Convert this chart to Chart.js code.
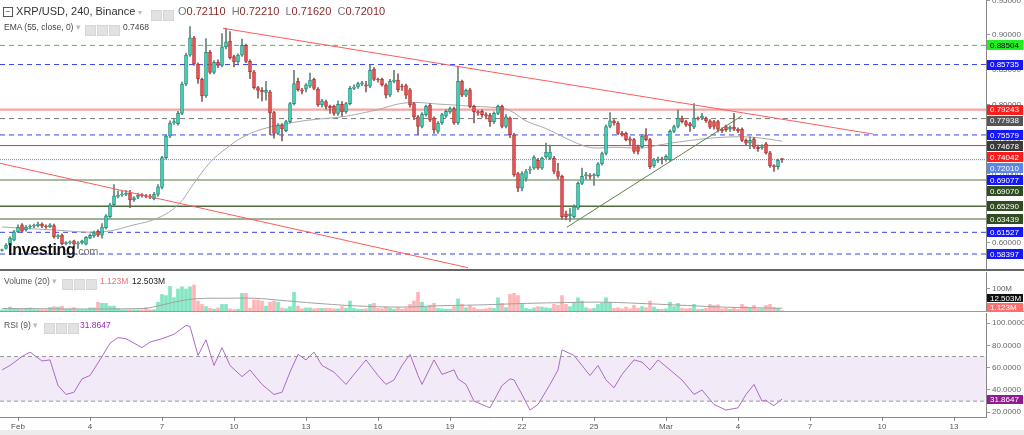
<!DOCTYPE html>
<html>
<head>
<meta charset="utf-8">
<script src="https://cdn.jsdelivr.net/npm/chart.js@4.4.1/dist/chart.umd.min.js"></script>
<style>
  body { margin: 0; width: 1024px; height: 435px; overflow: hidden; background: #fff; position: relative;
         font-family: "Liberation Sans", Arial, sans-serif; }
  canvas { position: absolute; left: 0; }
  .txt { position: absolute; white-space: nowrap; z-index: 5; }
  .ico { display: inline-block; width: 9px; height: 9px; background: #e2e2e2; border: 1px solid #d6d6d6; margin-right: 1px; vertical-align: middle; }
  .sep { position: absolute; left: 0; width: 1024px; z-index: 4; }
</style>
</head>
<body>
<canvas id="price" width="1024" height="270" style="top:0"></canvas>
<canvas id="volume" width="1024" height="39" style="top:272px"></canvas>
<canvas id="rsi" width="1024" height="123" style="top:312px"></canvas>

<div class="sep" style="top:269px;height:2px;background:#666"></div>
<div class="sep" style="top:311px;height:1px;background:#999"></div>
<div class="sep" style="top:430px;height:5px;background:#ececec"></div>

<div class="txt" style="left:3px;top:5px;font-size:11px;color:#333">
  <span style="display:inline-block;width:8px;height:8px;border:1px solid #555;font-size:8px;line-height:7px;text-align:center;vertical-align:1px">−</span>
  XRP/USD, 240, Binance <span style="color:#bbb;font-size:8px">▾</span>
</div>
<div class="txt" style="left:151px;top:6px"><span class="ico"></span><span class="ico"></span></div>
<div class="txt" style="left:178px;top:5px;font-size:11px;color:#777">O<span style="color:#8a2a2a">0.72110</span>&nbsp; H<span style="color:#8a2a2a">0.72210</span>&nbsp; L<span style="color:#8a2a2a">0.71620</span>&nbsp; C<span style="color:#8a2a2a">0.72010</span></div>
<div class="txt" style="left:4px;top:22px;font-size:8.5px;color:#444">EMA (55, close, 0) <span style="color:#bbb">▾</span></div>
<div class="txt" style="left:85px;top:21px"><span class="ico"></span><span class="ico"></span><span class="ico"></span></div>
<div class="txt" style="left:123px;top:22px;font-size:8.5px;color:#444">0.7468</div>

<div class="txt" style="left:8px;top:241px;font-size:16px;font-weight:bold;color:#111;letter-spacing:-0.3px">Investing<span style="font-size:11px;font-weight:normal;color:#777">.com</span></div>

<div class="txt" style="left:4px;top:276px;font-size:8.5px;color:#555">Volume (20) <span style="color:#bbb">▾</span></div>
<div class="txt" style="left:62px;top:275px"><span class="ico"></span><span class="ico"></span><span class="ico"></span></div>
<div class="txt" style="left:100px;top:276px;font-size:8.5px;color:#f07070">1.123M</div>
<div class="txt" style="left:132px;top:276px;font-size:8.5px;color:#222">12.503M</div>

<div class="txt" style="left:4px;top:320px;font-size:8.5px;color:#555">RSI (9) <span style="color:#bbb">▾</span></div>
<div class="txt" style="left:44px;top:319px"><span class="ico"></span><span class="ico"></span><span class="ico"></span></div>
<div class="txt" style="left:80px;top:320px;font-size:8.5px;color:#9c27b0">31.8647</div>

<script>
// 4h candles, index 0 = first candle on the left
const opens = [0.589,0.592,0.597,0.604,0.616,0.626,0.619,0.623,0.624,0.625,0.627,0.624,0.623,0.625,0.609,0.611,0.599,0.600,0.603,0.598,
  0.600,0.598,0.607,0.610,0.617,0.611,0.622,0.638,0.655,0.667,0.669,0.670,0.672,0.662,0.666,0.669,0.668,0.667,0.664,0.670,
  0.680,0.723,0.754,0.773,0.772,0.787,0.829,0.871,0.896,0.858,0.836,0.812,0.875,0.846,0.861,0.856,0.883,0.891,0.869,0.861,
  0.871,0.885,0.862,0.847,0.824,0.820,0.817,0.818,0.788,0.758,0.770,0.762,0.775,0.801,0.833,0.821,0.822,0.826,0.836,0.822,
  0.799,0.804,0.797,0.797,0.787,0.800,0.789,0.801,0.823,0.825,0.829,0.828,0.826,0.851,0.836,0.836,0.828,0.813,0.833,0.835,
  0.826,0.827,0.821,0.801,0.782,0.768,0.785,0.799,0.780,0.761,0.773,0.783,0.789,0.794,0.773,0.833,0.813,0.821,0.797,0.789,
  0.790,0.785,0.784,0.775,0.787,0.797,0.768,0.780,0.756,0.700,0.679,0.693,0.705,0.708,0.719,0.708,0.724,0.722,0.722,0.703,
  0.696,0.642,0.639,0.638,0.650,0.686,0.697,0.698,0.697,0.697,0.714,0.729,0.768,0.776,0.773,0.758,0.758,0.750,0.749,0.739,
  0.739,0.756,0.749,0.711,0.719,0.721,0.720,0.720,0.761,0.768,0.780,0.775,0.772,0.767,0.780,0.780,0.780,0.776,0.775,0.775,
  0.764,0.768,0.764,0.767,0.764,0.764,0.748,0.744,0.750,0.738,0.737,0.743,0.730,0.711,0.710,0.7211];
const highs = [0.591,0.599,0.609,0.618,0.626,0.628,0.625,0.626,0.627,0.630,0.629,0.626,0.628,0.627,0.612,0.613,0.602,0.603,0.604,0.602,
  0.604,0.609,0.613,0.617,0.619,0.628,0.641,0.657,0.684,0.675,0.675,0.676,0.676,0.667,0.672,0.671,0.670,0.670,0.673,0.684,
  0.725,0.756,0.776,0.779,0.790,0.832,0.874,0.912,0.898,0.860,0.838,0.895,0.878,0.863,0.864,0.902,0.910,0.905,0.871,0.873,
  0.894,0.887,0.864,0.849,0.826,0.824,0.833,0.820,0.790,0.772,0.772,0.777,0.803,0.849,0.838,0.823,0.830,0.845,0.838,0.824,
  0.807,0.806,0.799,0.799,0.805,0.804,0.803,0.826,0.828,0.832,0.833,0.833,0.857,0.853,0.838,0.838,0.830,0.836,0.849,0.844,
  0.829,0.829,0.823,0.803,0.784,0.788,0.799,0.801,0.782,0.775,0.787,0.792,0.796,0.796,0.854,0.835,0.822,0.823,0.799,0.791,
  0.792,0.788,0.787,0.789,0.799,0.799,0.785,0.782,0.758,0.702,0.703,0.706,0.710,0.726,0.722,0.724,0.744,0.741,0.725,0.715,
  0.698,0.646,0.650,0.655,0.688,0.708,0.702,0.700,0.700,0.716,0.731,0.770,0.788,0.778,0.775,0.761,0.760,0.753,0.751,0.741,
  0.756,0.765,0.751,0.722,0.724,0.724,0.727,0.763,0.770,0.792,0.783,0.777,0.774,0.801,0.782,0.787,0.782,0.778,0.777,0.777,
  0.766,0.770,0.769,0.787,0.766,0.766,0.750,0.753,0.752,0.741,0.742,0.745,0.732,0.713,0.721,0.7221];
const lows = [0.588,0.591,0.596,0.603,0.615,0.616,0.617,0.620,0.622,0.623,0.622,0.621,0.622,0.607,0.606,0.597,0.597,0.598,0.595,0.592,
  0.598,0.597,0.606,0.608,0.609,0.607,0.620,0.636,0.653,0.665,0.667,0.668,0.651,0.660,0.664,0.666,0.665,0.664,0.662,0.667,
  0.678,0.721,0.752,0.771,0.770,0.785,0.827,0.869,0.856,0.830,0.804,0.810,0.844,0.844,0.853,0.854,0.880,0.865,0.854,0.859,
  0.869,0.860,0.837,0.822,0.809,0.805,0.806,0.756,0.751,0.756,0.747,0.760,0.773,0.799,0.819,0.815,0.818,0.824,0.821,0.797,
  0.796,0.793,0.787,0.784,0.784,0.783,0.787,0.799,0.821,0.823,0.827,0.818,0.824,0.834,0.832,0.826,0.809,0.811,0.831,0.818,
  0.820,0.808,0.796,0.778,0.756,0.766,0.783,0.775,0.758,0.758,0.771,0.781,0.787,0.771,0.771,0.811,0.811,0.795,0.773,0.784,
  0.781,0.779,0.768,0.772,0.785,0.766,0.766,0.752,0.696,0.674,0.675,0.689,0.700,0.706,0.706,0.706,0.722,0.720,0.700,0.692,
  0.634,0.633,0.631,0.636,0.648,0.684,0.692,0.692,0.683,0.695,0.712,0.727,0.766,0.770,0.756,0.754,0.747,0.740,0.729,0.728,
  0.737,0.747,0.707,0.709,0.716,0.714,0.718,0.718,0.759,0.766,0.773,0.768,0.761,0.765,0.777,0.778,0.774,0.765,0.764,0.760,
  0.759,0.761,0.761,0.762,0.759,0.746,0.741,0.736,0.736,0.732,0.735,0.728,0.709,0.703,0.706,0.7162];
const closes = [0.590,0.597,0.607,0.616,0.623,0.617,0.623,0.624,0.625,0.627,0.624,0.623,0.626,0.609,0.610,0.599,0.600,0.601,0.598,0.600,
  0.603,0.608,0.611,0.615,0.611,0.623,0.639,0.655,0.668,0.669,0.670,0.671,0.662,0.665,0.669,0.668,0.667,0.666,0.670,0.681,
  0.723,0.754,0.773,0.775,0.787,0.829,0.871,0.896,0.858,0.837,0.812,0.875,0.846,0.861,0.856,0.883,0.890,0.867,0.861,0.871,
  0.885,0.862,0.847,0.824,0.820,0.818,0.820,0.788,0.758,0.770,0.765,0.775,0.801,0.830,0.821,0.819,0.828,0.835,0.823,0.799,
  0.805,0.797,0.795,0.787,0.800,0.789,0.801,0.823,0.825,0.830,0.831,0.826,0.849,0.836,0.835,0.828,0.813,0.833,0.835,0.821,
  0.825,0.813,0.799,0.782,0.768,0.786,0.797,0.777,0.763,0.773,0.785,0.790,0.794,0.773,0.833,0.813,0.820,0.797,0.789,0.788,
  0.785,0.783,0.775,0.787,0.797,0.768,0.782,0.756,0.698,0.679,0.700,0.703,0.706,0.724,0.708,0.722,0.731,0.731,0.703,0.696,
  0.638,0.638,0.642,0.652,0.686,0.696,0.698,0.696,0.698,0.714,0.729,0.768,0.776,0.773,0.758,0.756,0.749,0.748,0.732,0.732,
  0.754,0.749,0.710,0.720,0.721,0.720,0.725,0.761,0.768,0.780,0.775,0.770,0.769,0.780,0.779,0.783,0.776,0.767,0.768,0.764,
  0.762,0.763,0.767,0.764,0.762,0.748,0.744,0.748,0.738,0.736,0.739,0.730,0.711,0.710,0.719,0.7201];

// volume per candle, millions
const volumes = [5,6,18,10,8,8,12,14,6,6,6,6,16,20,18,22,8,8,15,6,
  6,6,14,14,40,35,35,22,22,10,5,5,6,5,5,5,15,6,6,40,
  75,70,112,60,100,110,100,110,118,45,30,20,12,8,14,30,30,10,6,8,
  80,80,12,50,50,45,22,40,45,40,14,10,20,85,22,10,14,14,10,12,
  12,12,12,10,10,20,12,45,12,8,8,10,30,35,12,10,18,12,8,15,
  8,14,30,45,85,40,20,25,35,12,10,8,8,20,55,30,15,25,15,8,
  8,10,14,12,60,35,15,75,80,70,30,12,8,14,20,18,15,12,30,25,
  70,30,20,40,60,45,15,10,12,30,35,60,40,12,15,10,18,10,25,12,
  20,15,45,18,8,8,10,40,20,35,12,10,12,30,8,8,12,30,25,28,
  10,12,8,15,8,30,20,12,25,10,10,25,30,15,12,1.123];
const volMaIdx = [0, 35, 39, 44, 49, 57, 63, 70, 80, 90, 100, 110, 120, 130, 140, 150, 160, 170, 180, 190, 195];
const volMaVal = [11, 11, 23, 44, 56, 58, 58, 48, 33, 22, 18, 24, 28, 34, 38, 40, 34, 26, 18, 14, 12.503];

// EMA(55)
const emaIdx = [0, 12, 25, 33, 39, 44, 48, 52, 56, 60, 65, 72, 78, 85, 93, 101, 110, 118, 124, 127, 131, 136, 141, 145, 148, 153, 160, 164, 171, 179, 186, 190, 195];
const emaVal = [0.623, 0.619, 0.616, 0.626, 0.636, 0.655, 0.686, 0.716, 0.736, 0.752, 0.764, 0.773, 0.778, 0.782, 0.791, 0.802, 0.800, 0.797, 0.795, 0.791, 0.776, 0.765, 0.751, 0.741, 0.737, 0.738, 0.737, 0.741, 0.747, 0.752, 0.753, 0.751, 0.7468];

// RSI(9)
const rsiIdx = [0, 2, 5, 7, 10, 12, 14, 16, 18, 20, 22, 25, 27, 29, 31, 33, 35, 37, 40, 43, 46, 47, 49, 51, 53, 55, 57, 60, 62, 65, 68, 70, 72, 74, 76, 78, 80, 83, 86, 88, 91, 94, 96, 98, 100, 102, 104, 105, 108, 110, 113, 114, 116, 118, 122, 125, 127, 128, 130, 132, 134, 137, 139, 140, 143, 147, 149, 151, 153, 155, 158, 160, 162, 164, 167, 170, 173, 175, 178, 181, 184, 186, 188, 190, 191, 192, 193, 195];
const rsiVal = [58, 62, 70, 74, 66, 67, 44, 36, 38, 50, 53, 70, 82, 87, 86, 82, 78, 83, 86, 90, 98, 97, 71, 85, 62, 78, 62, 52, 58, 45, 36, 38, 56, 72, 67, 74, 62, 56, 45, 54, 67, 53, 45, 49, 62, 72, 53, 45, 67, 54, 58, 50, 45, 30, 24, 44, 50, 49, 36, 22, 27, 45, 58, 76, 71, 53, 62, 49, 42, 54, 67, 65, 58, 67, 58, 49, 36, 40, 27, 22, 24, 36, 45, 30, 31, 28, 26, 31.8647];

// horizontal levels drawn on the chart
const levels = [0.88504, 0.85735, 0.79243, 0.77938, 0.75579, 0.74042, 0.72010, 0.69077, 0.65290, 0.63439, 0.61527, 0.58397];
const levelStyle = [
  ['#1fdc1f', [5, 4], 1], ['#3344ee', [5, 4], 1], ['#f7a3a3', [], 2.2], ['#777777', [5, 4], 1],
  ['#3344ee', [5, 4], 1], ['#f03030', [], 1], ['#5f78f0', [1, 1], 1], ['#a9baa0', [], 2],
  ['#4f6b3f', [], 1.5], ['#7f9a70', [], 1.5], ['#3344ee', [5, 4], 1], ['#3344ee', [5, 4], 1]];

// labels on the price axis
const axisLabels = [0.88504, 0.85735, 0.79243, 0.77938, 0.75579, 0.74678, 0.74042, 0.72010, 0.69077, 0.69070, 0.65290, 0.63439, 0.61527, 0.58397];
const axisLabelStyle = [['#22ee22', '#000'], ['#1515ff', '#fff'], ['#ff1c1c', '#fff'], ['#555555', '#fff'],
  ['#1515ff', '#fff'], ['#3a3a3a', '#fff'], ['#ff1c1c', '#fff'], ['#5b86e5', '#fff'], ['#1515ff', '#fff'],
  ['#2f4d20', '#fff'], ['#2f4d20', '#fff'], ['#2f4d20', '#fff'], ['#1515ff', '#fff'], ['#1515ff', '#fff']];
const priceTicks = [0.60, 0.65, 0.70, 0.75, 0.80, 0.85, 0.90, 0.95];

// trend lines: [startIndex, startPrice, endIndex, endPrice]
const trendLines = [[55.25, 0.9097, 217.75, 0.7571], [-0.5, 0.7149, 116.5, 0.5642], [141.2, 0.6225, 184.9, 0.7831]];
const trendColors = ['#ff5a5a', '#ff5a5a', '#5f7f47'];

const dayTickIdx = [4, 22, 40, 58, 76, 94, 112, 130, 148, 166, 184, 202, 220, 238];
const dayTickText = ['Feb', '4', '7', '10', '13', '16', '19', '22', '25', 'Mar', '4', '7', '10', '13'];

const X_MIN = -0.5, X_MAX = 246;
const AXIS_W = 38;
Chart.defaults.font.family = '"Liberation Sans", Arial, sans-serif';
Chart.defaults.animation = false;
Chart.defaults.events = [];
Chart.defaults.plugins.legend.display = false;
Chart.defaults.plugins.tooltip.enabled = false;

const idx = opens.map((_, i) => i);
const up = idx.map(i => closes[i] >= opens[i]);

function fixY(s) { s.width = AXIS_W; s.paddingTop = 0; s.paddingBottom = 0; }
function xScale(show) {
  return {
    type: 'linear', min: X_MIN, max: X_MAX, offset: false, display: show,
    grid: { display: show, drawOnChartArea: false, tickLength: 4, color: '#888', offset: false },
    border: { color: '#888' },
    afterBuildTicks: s => { s.ticks = dayTickIdx.map(v => ({ value: v })); },
    afterFit: s => { s.height = show ? 18 : 0; s.paddingLeft = 0; s.paddingRight = 0; },
    ticks: { autoSkip: false, maxRotation: 0, padding: 1, color: '#555',
      font: { size: 8, family: '"Liberation Sans Narrow", "Liberation Sans", sans-serif' },
      callback: v => dayTickText[dayTickIdx.indexOf(v)] }
  };
}
function hline(v, x0, x1) { return [{ x: x0, y: v }, { x: x1, y: v }]; }

// draws coloured value boxes on the right axis, nudging overlapping ones apart
function axisBoxes(id, items, gap, fromBottom) {
  return {
    id: id,
    afterDraw(chart) {
      const sc = chart.scales.y, ctx = chart.ctx, area = chart.chartArea;
      const h = gap - 1;
      let list = items.map(it => Object.assign({}, it, { py: sc.getPixelForValue(it.v) }));
      if (fromBottom) {
        list.sort((a, b) => b.py - a.py);
        let last = area.bottom - h / 2 + gap;
        list.forEach(it => { it.py = Math.min(it.py, last - gap); last = it.py; });
      } else {
        list.sort((a, b) => a.py - b.py);
        let last = -99;
        list.forEach(it => { it.py = Math.max(it.py, last + gap); last = it.py; });
      }
      ctx.save();
      ctx.font = '8px "Liberation Sans", Arial, sans-serif';
      ctx.textBaseline = 'middle';
      list.forEach(it => {
        ctx.fillStyle = it.bg;
        ctx.fillRect(area.right + 1, Math.round(it.py - h / 2), 36, h);
        ctx.fillStyle = it.fg;
        ctx.fillText(it.text, area.right + 4, it.py + 0.5);
      });
      ctx.restore();
    }
  };
}

// ---------- price pane ----------
const priceSets = [];
levels.forEach((v, k) => priceSets.push({
  type: 'line', data: hline(v, X_MIN, X_MAX), borderColor: levelStyle[k][0], borderDash: levelStyle[k][1],
  borderWidth: levelStyle[k][2], pointRadius: 0, order: 20
}));
priceSets.push({
  type: 'line', data: emaIdx.map((x, k) => ({ x: x, y: emaVal[k] })), borderColor: '#a8a8a8',
  borderWidth: 1, pointRadius: 0, tension: 0.4, order: 12
});
priceSets.push({
  type: 'bar', data: idx.map(i => ({ x: i, y: [lows[i], highs[i]] })), barThickness: 1, grouped: false,
  backgroundColor: idx.map(i => up[i] ? '#5f8676' : '#8f5a5a'), order: 8
});
priceSets.push({
  type: 'bar', data: idx.map(i => ({ x: i, y: [opens[i], closes[i]] })), barThickness: 3, grouped: false, minBarLength: 1,
  backgroundColor: idx.map(i => up[i] ? '#45dcc2' : '#f25858'),
  borderColor: idx.map(i => up[i] ? '#1f8a76' : '#b53030'), borderWidth: 1, borderSkipped: false, order: 6
});
trendLines.forEach((t, k) => priceSets.push({
  type: 'line', data: [{ x: t[0], y: t[1] }, { x: t[2], y: t[3] }], borderColor: trendColors[k],
  borderWidth: 1, pointRadius: 0, order: 2
}));

new Chart(document.getElementById('price'), {
  type: 'bar',
  data: { datasets: priceSets },
  options: {
    responsive: false, devicePixelRatio: 1, layout: { padding: 0 },
    scales: {
      x: xScale(false),
      y: {
        position: 'right', min: 0.5609, max: 0.9505, afterFit: fixY,
        afterBuildTicks: s => { s.ticks = priceTicks.map(v => ({ value: v })); },
        grid: { drawOnChartArea: false, tickLength: 4, color: '#999' },
        border: { color: '#888' },
        ticks: { color: '#666', padding: 2, font: { size: 8 }, callback: v => v.toFixed(5) }
      }
    }
  },
  plugins: [axisBoxes('priceBoxes', axisLabels.map((v, k) => ({
    v: v, text: v.toFixed(5), bg: axisLabelStyle[k][0], fg: axisLabelStyle[k][1]
  })), 11, false)]
});

// ---------- volume pane ----------
new Chart(document.getElementById('volume'), {
  type: 'bar',
  data: {
    datasets: [
      { type: 'line', data: volMaIdx.map((x, k) => ({ x: x, y: volMaVal[k] })), borderColor: '#a0a0a0',
        borderWidth: 1, pointRadius: 0, tension: 0.4, order: 1 },
      { type: 'bar', data: idx.map(i => ({ x: i, y: volumes[i] })), barThickness: 3,
        backgroundColor: idx.map(i => up[i] ? '#84e6c2' : '#ffb5b5'), order: 5 }
    ]
  },
  options: {
    responsive: false, devicePixelRatio: 1, layout: { padding: 0 },
    scales: {
      x: xScale(false),
      y: {
        position: 'right', min: 0, max: 177, afterFit: fixY,
        afterBuildTicks: s => { s.ticks = [{ value: 100 }]; },
        grid: { drawOnChartArea: false, tickLength: 4, color: '#999' },
        border: { color: '#888' },
        ticks: { color: '#666', padding: 2, font: { size: 8 }, callback: v => v + 'M' }
      }
    }
  },
  plugins: [axisBoxes('volBoxes', [
    { v: 12.503, text: '12.503M', bg: '#111', fg: '#fff' },
    { v: 1.123, text: '1.123M', bg: '#ff6f6f', fg: '#fff' }], 9, true)]
});

// ---------- RSI pane ----------
new Chart(document.getElementById('rsi'), {
  type: 'line',
  data: {
    datasets: [
      { data: hline(70, X_MIN, X_MAX), borderColor: '#999', borderDash: [4, 3], borderWidth: 1, pointRadius: 0 },
      { data: hline(30, X_MIN, X_MAX), borderColor: '#999', borderDash: [4, 3], borderWidth: 1, pointRadius: 0,
        fill: '-1', backgroundColor: 'rgba(160, 90, 190, 0.13)' },
      { data: rsiIdx.map((x, k) => ({ x: x, y: rsiVal[k] })), borderColor: '#ad6bcc', borderWidth: 1,
        pointRadius: 0, tension: 0 }
    ]
  },
  options: {
    responsive: false, devicePixelRatio: 1, layout: { padding: { top: 1 } },
    scales: {
      x: xScale(true),
      y: {
        position: 'right', min: 15.78, max: 109.06, afterFit: fixY,
        afterBuildTicks: s => { s.ticks = [20, 40, 60, 80, 100].map(v => ({ value: v })); },
        grid: { drawOnChartArea: false, tickLength: 4, color: '#999' },
        border: { color: '#888' },
        ticks: { color: '#666', padding: 2, font: { size: 8 }, callback: v => v.toFixed(4) }
      }
    }
  },
  plugins: [axisBoxes('rsiBoxes', [{ v: 31.8647, text: '31.8647', bg: '#8e1d8e', fg: '#fff' }], 10, false)]
});
</script>
</body>
</html>
